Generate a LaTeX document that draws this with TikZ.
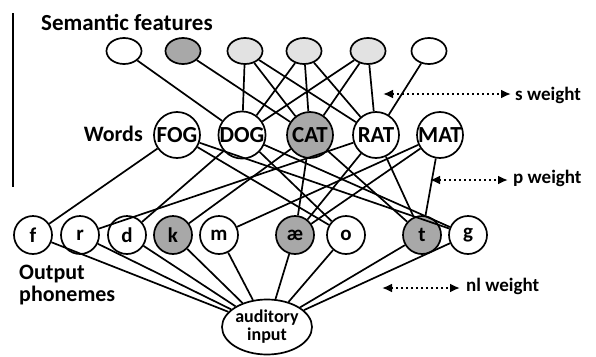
\documentclass[tikz,border=0pt]{standalone}
\usepackage{fontspec}
\setmainfont{Carlito}
\usetikzlibrary{shapes.geometric,arrows.meta,calc}
\definecolor{darkfill}{HTML}{A8A8A8}
\definecolor{lightfill}{HTML}{E2E2E2}
\newcommand{\fsz}[1]{\fontsize{#1}{#1}\selectfont\bfseries}
\tikzset{
  sem/.style={ellipse,draw,line width=1.7pt,minimum width=35pt,minimum height=26pt,inner sep=0pt,fill=white},
  word/.style={circle,draw,line width=1.7pt,minimum size=46pt,inner sep=0pt,fill=white,font=\fsz{23}},
  phon/.style={circle,draw,line width=1.7pt,minimum size=38pt,inner sep=0pt,fill=white,font=\fsz{21}},
  aud/.style={ellipse,draw,line width=1.7pt,minimum width=90pt,minimum height=55pt,inner sep=0pt,fill=white,align=center,font=\fsz{18}},
  conn/.style={line width=1.7pt},
  wlabel/.style={anchor=west,inner sep=0pt,font=\fsz{19}},
  title/.style={inner sep=0pt,font=\fsz{22}},
  warrow/.style={line width=2.2pt,dash pattern=on 2.4pt off 2.6pt,{Latex[length=10pt,width=9pt]}-{Latex[length=10pt,width=9pt]}},
}
\begin{document}
\begin{tikzpicture}[x=1pt,y=-1pt]
\useasboundingbox (0,0) rectangle (596,356);
% vertical rule
\coordinate (vt) at (13,13);
\coordinate (vb) at (13,187);
\draw[line width=1.2pt] (vt) -- (vb);
% labels
\node[title,anchor=west,font=\fsz{23}] (tsem) at (41,22) {Semantic features};
\node[title,anchor=east] (twords) at (143,134) {Words};
\node[title,anchor=north west,align=left] (tout) at (19,265) {Output\\phonemes};
% semantic features
\node[sem] (s1) at (124,51) {};
\node[sem,fill=darkfill] (s2) at (183,51) {};
\node[sem,fill=lightfill] (s3) at (245,51) {};
\node[sem,fill=lightfill] (s4) at (304,51) {};
\node[sem,fill=lightfill] (s5) at (368,51) {};
\node[sem] (s6) at (429,51) {};
% words
\node[word] (FOG) at (177,135) {FOG};
\node[word] (DOG) at (242,135) {DOG};
\node[word,fill=darkfill] (CAT) at (310,135) {CAT};
\node[word] (RAT) at (376,135) {RAT};
\node[word] (MAT) at (440,135) {MAT};
% phonemes
\node[phon] (f) at (33,235) {f};
\node[phon] (r) at (80,235) {r};
\node[phon] (d) at (127,235) {d};
\node[phon,fill=darkfill] (k) at (173,235) {k};
\node[phon] (m) at (219,235) {m};
\node[phon,fill=darkfill] (ae) at (295,235) {æ};
\node[phon] (o) at (346,235) {o};
\node[phon,fill=darkfill] (t) at (422,235) {t};
\node[phon] (g) at (468,235) {g};
% auditory
\node[aud] (aud) at (267,327) {auditory\\input};
% semantic -> word
\foreach \a/\b in {s1/DOG,s2/CAT,s3/DOG,s3/CAT,s3/RAT,s4/DOG,s4/CAT,s4/RAT,s5/DOG,s5/CAT,s5/RAT,s6/RAT}
  \draw[conn] (\a) -- (\b);
% word -> phoneme
\foreach \a/\b in {FOG/f,FOG/o,FOG/g,DOG/d,DOG/o,DOG/g,CAT/k,CAT/ae,CAT/t,RAT/r,RAT/ae,RAT/t,MAT/m,MAT/ae,MAT/t}
  \draw[conn] (\a) -- (\b);
% phoneme -> auditory
\foreach \a in {f,r,d,k,m,ae,o,t,g}
  \draw[conn] (\a) -- (aud);
% weight arrows
\coordinate (swl) at (383,94);
\coordinate (swr) at (511,94);
\draw[warrow] (swl) -- (swr);
\node[wlabel] (sw) at (515,95) {s weight};
\coordinate (pwl) at (430,180);
\coordinate (pwr) at (508,180);
\draw[warrow] (pwl) -- (pwr);
\node[wlabel] (pw) at (513,178) {p weight};
\coordinate (nwl) at (382,288);
\coordinate (nwr) at (460,288);
\draw[warrow] (nwl) -- (nwr);
\node[wlabel] (nw) at (466,286) {nl weight};
\end{tikzpicture}
\end{document}
